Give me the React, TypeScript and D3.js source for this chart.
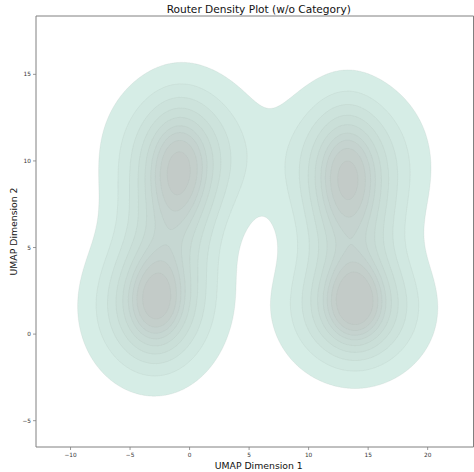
import React, { useMemo } from "react";
import * as d3 from "d3";

// Density modes (UMAP units)
const modeX = [-0.5, -0.9, -3.0, -2.8, -1.8, 13.4, 13.2, 13.9, 13.9, 13.6];
const modeY = [10.4, 9.4, 1.5, 2.0, 5.8, 9.9, 9.2, 1.4, 1.9, 5.6];
const spreadX = [3.5, 1.8, 3.1, 1.6, 2.7, 3.5, 1.8, 3.3, 1.6, 2.7];
const spreadY = [2.6, 2.3, 2.45, 1.8, 2.6, 2.6, 2.4, 2.15, 1.6, 2.6];
const weight = [0.8, 0.3, 0.8, 0.18, 0.45, 0.75, 0.3, 0.8, 0.18, 0.45];

const xTicks = [-10, -5, 0, 5, 10, 15, 20];
const yTicks = [-5, 0, 5, 10, 15];
const xDomain = [-12.9, 23.85];
const yDomain = [-6.52, 18.37];
const levelCount = 10;
const thresh = 0.05;

const bandColors = [
  "#d6ede6", "#d1e8e1", "#cde3dc", "#cadfd8", "#c8dbd5",
  "#c6d7d2", "#c5d3cf", "#c4cfcb", "#c3cbc8",
];

const W = 474, H = 472;
const L = 36, R = 473.5, T = 16, B = 447;

export default function App() {
  const x = d3.scaleLinear().domain(xDomain).range([L, R]);
  const y = d3.scaleLinear().domain(yDomain).range([B, T]);

  const paths = useMemo(() => {
    const step = 1;
    const nx = Math.ceil((R - L) / step);
    const ny = Math.ceil((B - T) / step);
    const vals = new Array(nx * ny);
    for (let j = 0; j < ny; j++) {
      const dy = y.invert(T + (j + 0.5) * step);
      for (let i = 0; i < nx; i++) {
        const dx = x.invert(L + (i + 0.5) * step);
        let s = 0;
        for (let k = 0; k < modeX.length; k++) {
          const u = (dx - modeX[k]) / spreadX[k];
          const v = (dy - modeY[k]) / spreadY[k];
          s += (weight[k] / (spreadX[k] * spreadY[k])) * Math.exp(-0.5 * (u * u + v * v));
        }
        vals[j * nx + i] = s;
      }
    }
    const sorted = Float64Array.from(vals).sort();
    const total = d3.sum(sorted);
    const cum = new Float64Array(sorted.length);
    let acc = 0;
    for (let i = 0; i < sorted.length; i++) { acc += sorted[i]; cum[i] = acc / total; }
    const qs = d3.range(levelCount).map((i) => thresh + (i * (1 - thresh)) / (levelCount - 1));
    const levels = qs.slice(0, levelCount - 1).map((q) => {
      const idx = d3.bisectLeft(cum, q);
      return sorted[Math.min(idx, sorted.length - 1)];
    });
    const contours = d3.contours().size([nx, ny]).thresholds(levels)(vals);
    const gp = d3.geoPath(
      d3.geoTransform({
        point(px: number, py: number) {
          (this as any).stream.point(L + px * step, T + py * step);
        },
      })
    );
    return contours.map((c) => gp(c as any) || "");
  }, []);

  return (
    <svg width={W} height={H} style={{ position: "absolute", left: 0, top: 0, background: "#fff" }}
      fontFamily="DejaVu Sans, sans-serif">
      <defs>
        <clipPath id="plotClip"><rect x={L} y={T} width={R - L} height={B - T} /></clipPath>
      </defs>
      <g clipPath="url(#plotClip)">
        {paths.map((d, i) => (
          <path key={i} d={d} fill={bandColors[i]} stroke="#9fb0aa" strokeOpacity={0.25} strokeWidth={0.6} />
        ))}
      </g>
      <g fill="none" stroke="#808080" strokeWidth={1}>
        <line x1={L} x2={L} y1={T} y2={B} />
        <line x1={L} x2={R} y1={B} y2={B} />
        <line x1={L} x2={R} y1={T} y2={T} />
        <line x1={R} x2={R} y1={T} y2={B} />
      </g>
      {xTicks.map((t) => (
        <g key={t} transform={`translate(${x(t)},${B})`}>
          <line y2={3} stroke="#808080" strokeWidth={0.8} />
          <text y={10} textAnchor="middle" fontSize={5.8} fill="#333">{t < 0 ? "\u2212" + Math.abs(t) : t}</text>
        </g>
      ))}
      {yTicks.map((t) => (
        <g key={t} transform={`translate(${L},${y(t)})`}>
          <line x2={-3} stroke="#808080" strokeWidth={0.8} />
          <text x={-5} dy="0.35em" textAnchor="end" fontSize={5.8} fill="#333">{t < 0 ? "\u2212" + Math.abs(t) : t}</text>
        </g>
      ))}
      <text x={(L + R) / 2 + 4} y={12.5} textAnchor="middle" fontSize={10.6} fill="#111">Router Density Plot (w/o Category)</text>
      <text x={(L + R) / 2 + 4} y={468.5} textAnchor="middle" fontSize={9.3} fill="#111">UMAP Dimension 1</text>
      <text transform={`translate(${17},${(T + B) / 2}) rotate(-90)`} textAnchor="middle" fontSize={9.3} fill="#111">UMAP Dimension 2</text>
    </svg>
  );
}
